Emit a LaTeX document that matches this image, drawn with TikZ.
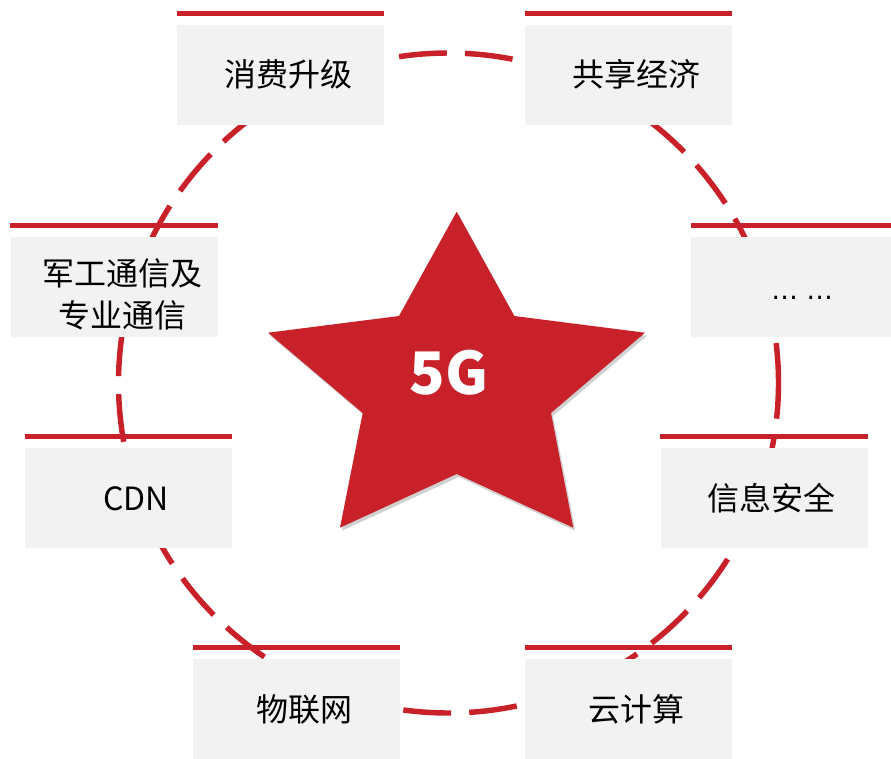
\documentclass[tikz,border=0pt]{standalone}
\usepackage{fontspec}
\newfontfamily\cjk{Noto Sans CJK SC}
\newfontfamily\dotfont{DejaVu Sans}
\usetikzlibrary{positioning}
\definecolor{hwred}{RGB}{201,33,42}
\definecolor{boxgray}{RGB}{242,242,242}
\tikzset{
	item/.style={fill=boxgray, minimum width=155.25pt, minimum height=75pt, inner sep=0pt},
	bar/.style={hwred, line width=3.75pt},
	lbl/.style={font=\cjk\fontsize{24}{24}\selectfont, xshift=5.75pt, text height=18pt, text depth=0pt},
	lbltwo/.style={font=\cjk\fontsize{24}{31.5}\selectfont, align=center, xshift=6pt, yshift=-5.25pt},
	ring/.style={hwred, line width=4.1pt, dash pattern=on 36pt off 13.5pt, dash phase=6pt}
}

\begin{document}
\begin{tikzpicture}[x=0.75pt,y=-0.75pt]
	\useasboundingbox (0,0) rectangle (891,759);
	% dashed ring behind the boxes
	\draw[ring] (448.5,383) circle[radius=247.5pt];
	% star
	\fill[hwred, preaction={fill=black, opacity=0.18, transform canvas={xshift=1.5pt, yshift=-2.25pt}}]
		(456.7,211.7) -- (514.3,316) -- (645,332.7) -- (551,413) -- (573.3,527.7)
		-- (456.7,474) -- (340,527.7) -- (362.7,413) -- (268,332.7) -- (399,316) -- cycle;
	\node[font=\cjk\bfseries\fontsize{44}{44}\selectfont, text=white] (fiveg) at (449,373) {5G};
	% boxes
	\node[item, label={[lbl]center:消费升级}] (xf) at (280.5,75) {};
	\node[item, label={[lbl]center:共享经济}] (gx) at (628.5,75) {};
	\node[item, label={[lbltwo]center:{军工通信及\\专业通信}}] (jg) at (114,287) {};
	\node[item, label={[lbl, font=\dotfont\fontsize{20}{20}\selectfont]center:… …}] (more) at (794.5,287) {};
	\node[item, label={[lbl]center:CDN}] (cdn) at (128.5,498) {};
	\node[item, label={[lbl]center:信息安全}] (xxaq) at (764,498) {};
	\node[item, label={[lbl]center:物联网}] (wlw) at (296.5,709) {};
	\node[item, label={[lbl]center:云计算}] (yjs) at (628.5,709) {};
	% red bars over the boxes
	\draw[bar] ([yshift=8.25pt]xf.north west) -- ([yshift=8.25pt]xf.north east);
	\draw[bar] ([yshift=8.25pt]gx.north west) -- ([yshift=8.25pt]gx.north east);
	\draw[bar] ([yshift=8.25pt]jg.north west) -- ([yshift=8.25pt]jg.north east);
	\draw[bar] ([yshift=8.25pt]more.north west) -- ([yshift=8.25pt]more.north east);
	\draw[bar] ([yshift=8.25pt]cdn.north west) -- ([yshift=8.25pt]cdn.north east);
	\draw[bar] ([yshift=8.25pt]xxaq.north west) -- ([yshift=8.25pt]xxaq.north east);
	\draw[bar] ([yshift=8.25pt]wlw.north west) -- ([yshift=8.25pt]wlw.north east);
	\draw[bar] ([yshift=8.25pt]yjs.north west) -- ([yshift=8.25pt]yjs.north east);
\end{tikzpicture}
\end{document}
